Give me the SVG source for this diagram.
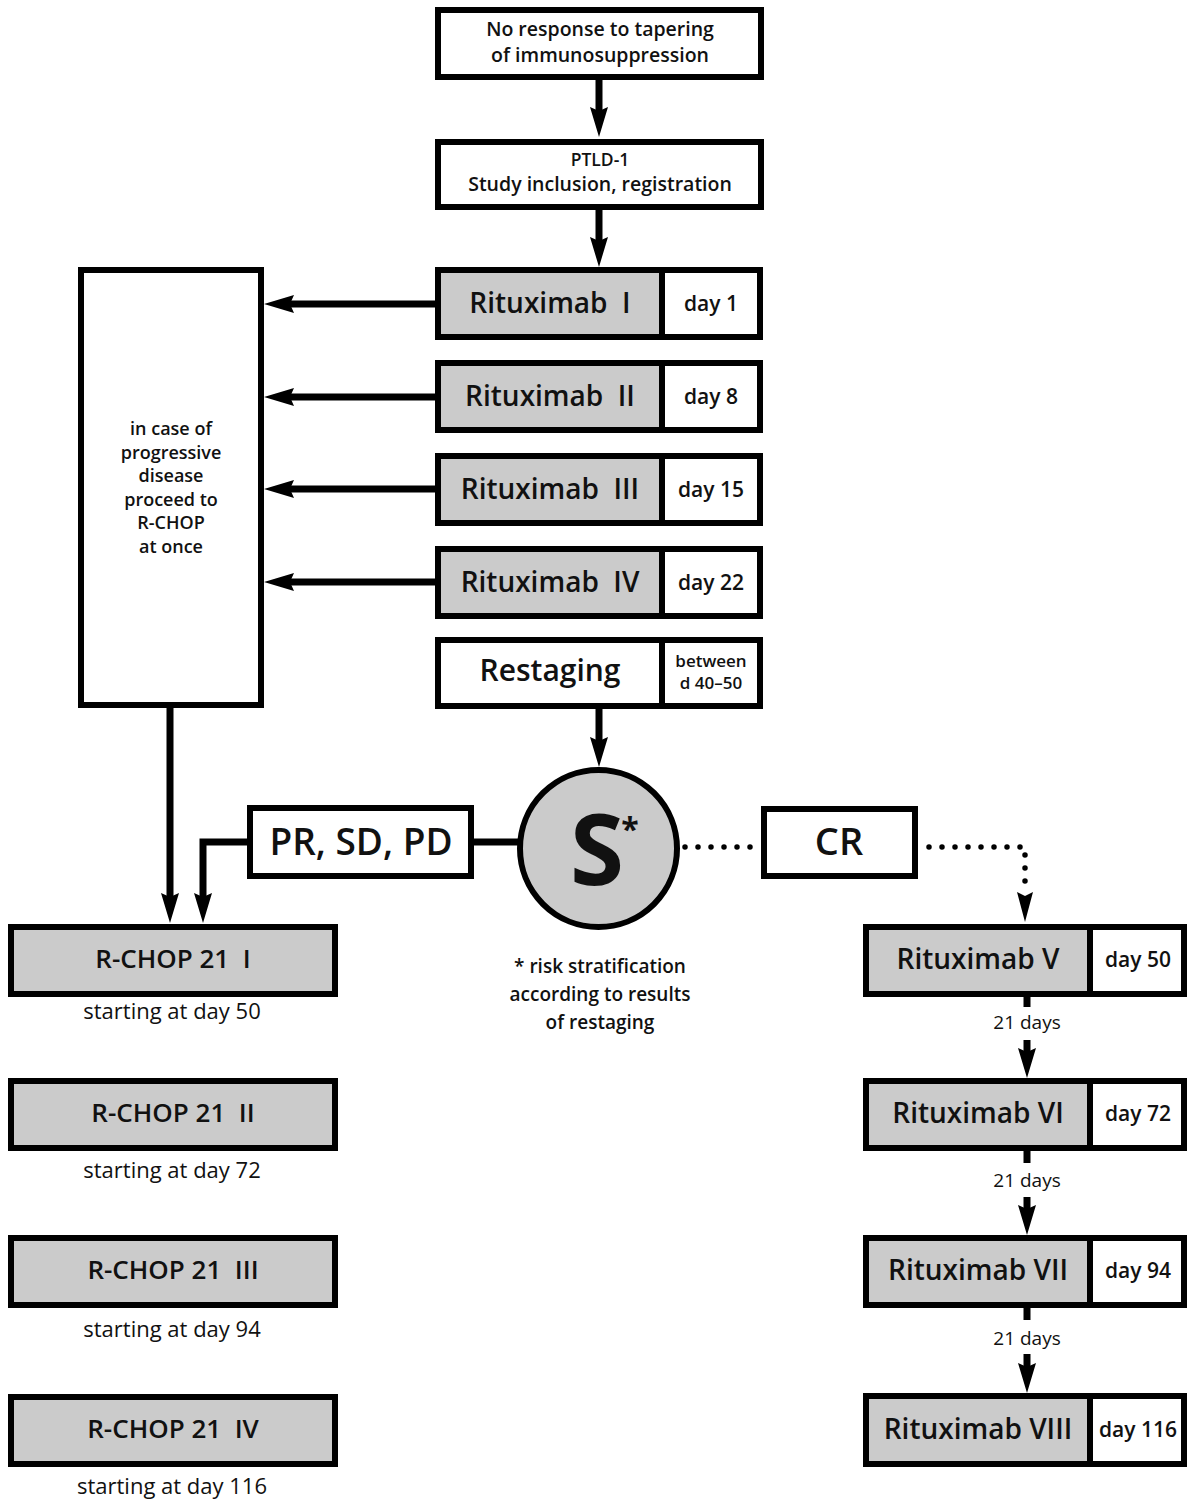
<svg xmlns="http://www.w3.org/2000/svg" width="1187" height="1499" viewBox="0 0 1187 1499">
<style>
.bx{stroke:#000;stroke-width:6;fill:#fff}
.g{fill:#cbcbcb}
.ln{stroke:#000;stroke-width:7;fill:none}
.dot{stroke:#000;stroke-width:5.5;fill:none;stroke-linecap:round;stroke-dasharray:0 13}
text{font-family:"Open Sans","Liberation Sans",sans-serif;fill:#111;text-anchor:middle}
.sb{font-weight:600}
.t28{font-size:28px;font-weight:600}
.day{font-size:21px;font-weight:600}
.rc{font-size:26px;font-weight:600}
.st{font-size:22px;font-weight:400}
.dd{font-size:19px;font-weight:400}
</style>
<defs>
<marker id="ah" markerUnits="userSpaceOnUse" markerWidth="32" markerHeight="20" viewBox="0 0 32 20" refX="4" refY="10" orient="auto"><path d="M0,1 L30,10 L0,19 L4,10 z" fill="#000"/></marker>
</defs>
<g id="connectors">
<path class="ln" d="M599,79 V111" marker-end="url(#ah)"/>
<path class="ln" d="M599,210 V241" marker-end="url(#ah)"/>
<path class="ln" d="M436,304 H290" marker-end="url(#ah)"/>
<path class="ln" d="M436,397 H290" marker-end="url(#ah)"/>
<path class="ln" d="M436,489 H290" marker-end="url(#ah)"/>
<path class="ln" d="M436,582 H290" marker-end="url(#ah)"/>
<path class="ln" d="M599,708 V741" marker-end="url(#ah)"/>
<path class="ln" d="M170,708 V897" marker-end="url(#ah)"/>
<path class="ln" d="M250,842 H203 V897" marker-end="url(#ah)"/>
<path class="ln" d="M472,842 H520"/>
<path class="dot" d="M685,847 H752"/>
<path class="dot" d="M929,847 H1025 V888"/>
<path d="M1017,892 L1025,922 L1033,892 L1025,896 z" fill="#000"/>
<path class="ln" d="M1027,996 V1007"/>
<path class="ln" d="M1027,1040 V1052" marker-end="url(#ah)"/>
<path class="ln" d="M1027,1150 V1163"/>
<path class="ln" d="M1027,1197 V1209" marker-end="url(#ah)"/>
<path class="ln" d="M1027,1307 V1320"/>
<path class="ln" d="M1027,1354 V1367" marker-end="url(#ah)"/>
<text class="dd" x="1027" y="1029">21 days</text>
<text class="dd" x="1027" y="1187">21 days</text>
<text class="dd" x="1027" y="1345">21 days</text>
</g>
<g id="n-start">
<rect class="bx" x="438" y="10" width="323" height="67"/>
<text class="sb" font-size="19.5" x="600" y="36">No response to tapering<tspan x="600" dy="25.5">of immunosuppression</tspan></text>
</g>
<g id="n-ptld">
<rect class="bx" x="438" y="142" width="323" height="65"/>
<text class="sb" font-size="19.5" x="600" y="166"><tspan font-size="17.5">PTLD-1</tspan><tspan x="600" dy="24.5">Study inclusion, registration</tspan></text>
</g>
<g id="n-rit1">
<rect class="bx g" x="438" y="270" width="224" height="67"/>
<rect class="bx" x="662" y="270" width="98" height="67"/>
<text class="t28" x="550" y="313">Rituximab&#160;&#160;I</text>
<text class="day" x="711" y="311">day 1</text>
</g>
<g id="n-rit2">
<rect class="bx g" x="438" y="363" width="224" height="67"/>
<rect class="bx" x="662" y="363" width="98" height="67"/>
<text class="t28" x="550" y="406">Rituximab&#160;&#160;II</text>
<text class="day" x="711" y="404">day 8</text>
</g>
<g id="n-rit3">
<rect class="bx g" x="438" y="456" width="224" height="67"/>
<rect class="bx" x="662" y="456" width="98" height="67"/>
<text class="t28" x="550" y="499">Rituximab&#160;&#160;III</text>
<text class="day" x="711" y="497">day 15</text>
</g>
<g id="n-rit4">
<rect class="bx g" x="438" y="549" width="224" height="67"/>
<rect class="bx" x="662" y="549" width="98" height="67"/>
<text class="t28" x="550" y="592">Rituximab&#160;&#160;IV</text>
<text class="day" x="711" y="590">day 22</text>
</g>
<g id="n-restaging">
<rect class="bx" x="438" y="640" width="224" height="66"/>
<rect class="bx" x="662" y="640" width="98" height="66"/>
<text class="sb" font-size="30" x="550" y="681">Restaging</text>
<text class="sb" font-size="17" x="711" y="667">between<tspan x="711" dy="22">d 40–50</tspan></text>
</g>
<g id="n-pd">
<rect class="bx" x="81" y="270" width="180" height="435"/>
<text class="sb" font-size="18" x="171" y="435">in case of<tspan x="171" dy="23.5">progressive</tspan><tspan x="171" dy="23.5">disease</tspan><tspan x="171" dy="23.5">proceed to</tspan><tspan x="171" dy="23.5">R-CHOP</tspan><tspan x="171" dy="23.5">at once</tspan></text>
</g>
<g id="n-s">
<circle cx="598.5" cy="848.5" r="78.5" stroke="#000" stroke-width="6" fill="#cbcbcb"/>
<text x="597" y="885" font-size="98" font-weight="700">S</text>
<text x="630" y="841" font-size="32" font-weight="700">*</text>
</g>
<g id="n-footnote">
<text class="sb" font-size="19" x="600" y="973">* risk stratification<tspan x="600" dy="28">according to results</tspan><tspan x="600" dy="28">of restaging</tspan></text>
</g>
<g id="n-prsdpd">
<rect class="bx" x="250" y="808" width="221" height="68"/>
<text class="sb" font-size="37" x="361" y="855">PR, SD, PD</text>
</g>
<g id="n-cr">
<rect class="bx" x="764" y="809" width="151" height="67"/>
<text class="sb" font-size="38" x="839" y="855">CR</text>
</g>
<g id="n-rchop1">
<rect class="bx g" x="11" y="927" width="324" height="67"/>
<text class="rc" x="173" y="968">R-CHOP 21&#160;&#160;I</text>
<text class="st" x="172" y="1019">starting at day 50</text>
</g>
<g id="n-rchop2">
<rect class="bx g" x="11" y="1081" width="324" height="67"/>
<text class="rc" x="173" y="1122">R-CHOP 21&#160;&#160;II</text>
<text class="st" x="172" y="1178">starting at day 72</text>
</g>
<g id="n-rchop3">
<rect class="bx g" x="11" y="1238" width="324" height="67"/>
<text class="rc" x="173" y="1279">R-CHOP 21&#160;&#160;III</text>
<text class="st" x="172" y="1337">starting at day 94</text>
</g>
<g id="n-rchop4">
<rect class="bx g" x="11" y="1397" width="324" height="67"/>
<text class="rc" x="173" y="1438">R-CHOP 21&#160;&#160;IV</text>
<text class="st" x="172" y="1494">starting at day 116</text>
</g>
<g id="n-rit5">
<rect class="bx g" x="866" y="927" width="224" height="67"/>
<rect class="bx" x="1090" y="927" width="94" height="67"/>
<text class="t28" x="978" y="969">Rituximab V</text>
<text class="day" x="1138" y="967">day 50</text>
</g>
<g id="n-rit6">
<rect class="bx g" x="866" y="1081" width="224" height="67"/>
<rect class="bx" x="1090" y="1081" width="94" height="67"/>
<text class="t28" x="978" y="1123">Rituximab VI</text>
<text class="day" x="1138" y="1121">day 72</text>
</g>
<g id="n-rit7">
<rect class="bx g" x="866" y="1238" width="224" height="67"/>
<rect class="bx" x="1090" y="1238" width="94" height="67"/>
<text class="t28" x="978" y="1280">Rituximab VII</text>
<text class="day" x="1138" y="1278">day 94</text>
</g>
<g id="n-rit8">
<rect class="bx g" x="866" y="1396" width="224" height="68"/>
<rect class="bx" x="1090" y="1396" width="94" height="68"/>
<text class="t28" x="978" y="1439">Rituximab VIII</text>
<text class="day" x="1138" y="1437">day 116</text>
</g>
</svg>
